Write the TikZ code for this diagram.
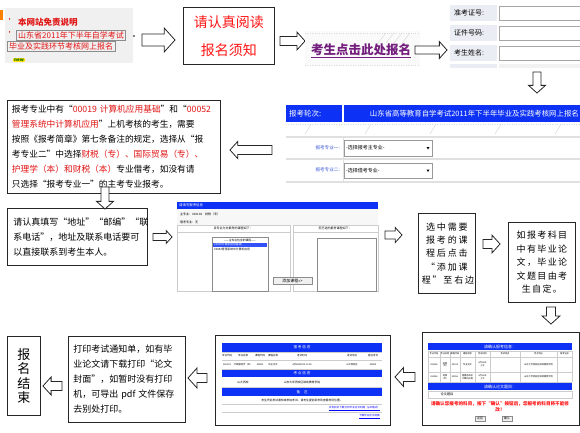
\documentclass[tikz,border=0pt]{standalone}
\usepackage{fontspec}
\setmainfont{Noto Sans CJK SC}
\usetikzlibrary{calc}
\definecolor{scrblue}{RGB}{14,50,245}
\definecolor{bred}{RGB}{255,20,20}
\definecolor{tred}{RGB}{225,20,20}
\definecolor{purp}{RGB}{115,30,125}
\definecolor{lgray}{RGB}{240,240,240}
\definecolor{cellgray}{RGB}{234,237,243}
\definecolor{lblue}{RGB}{60,90,220}
\newcommand{\myfs}[2]{\fontsize{#1}{#2}\selectfont}
\newcommand{\harrow}[6]{\begin{scope}[shift={(#1,#2)},rotate=#3]\draw[barrow] (0,{-#5/2}) -- ({#4-0.45*#6},{-#5/2}) -- ({#4-0.45*#6},{-#6/2}) -- (#4,0) -- ({#4-0.45*#6},{#6/2}) -- ({#4-0.45*#6},{#5/2}) -- (0,{#5/2}) -- cycle;\end{scope}}
\begin{document}
\begin{tikzpicture}[x=1pt,y=-1pt,
  box/.style={draw=black!85, line width=0.8pt, anchor=north west, inner sep=0pt},
  barrow/.style={draw=black!85, fill=white, line width=0.8pt, line join=miter},
  tx/.style={inner sep=0pt},
  wt/.style={inner sep=0pt, text=white},
  tiny/.style={inner sep=0pt, font=\myfs{3}{3.6}},
  grid/.style={draw=black!20, line width=0.3pt},
]
\useasboundingbox (0,0) rectangle (580,432);
\fill[white] (0,0) rectangle (580,432);

% ---------- screenshot 1 ----------
\fill[lgray] (5,8) rectangle (133,63);
\fill[orange] (0,10) rectangle (3,20);
\node[tx, anchor=east, text=tred, font=\myfs{7}{7}\bfseries] (q1) at (16,21) {'};
\node[tx, anchor=west, font=\myfs{8.5}{9}\bfseries, text=tred] (disc) at (18,22) {本网站免责说明};
\node[tx, anchor=east, text=tred, font=\myfs{7}{7}\bfseries] (q2) at (16,34) {'};
\node[tx, anchor=west, font=\myfs{8}{9}, text=tred] (l1) at (18,35.5) {山东省2011年下半年自学考试};
\node[tx, anchor=west, font=\myfs{8}{9}, text=tred] (l2) at (9,46.5) {毕业及实践环节考核网上报名};
\draw[black!45, line width=0.4pt] ($(l1.north west)+(-1.5,-1)$) rectangle ($(l1.south east)+(1.5,1)$);
\draw[black!45, line width=0.4pt] ($(l2.north west)+(-1.5,-1)$) rectangle ($(l2.south east)+(1.5,1)$);
\fill (134,36) circle (0.8);
\node[tx, fill=yellow!85!orange, rounded corners=1pt, inner xsep=1.2pt, inner ysep=0.6pt, font=\myfs{4.5}{5}\bfseries, text=green!40!black] (new) at (19,60) {new};

\harrow{142}{40}{0}{33}{12}{24}

% ---------- read box ----------
\node[box, minimum width=91, minimum height=57, align=center, text=bred, font=\myfs{14}{28}] (read) at (183,7) {请认真阅读\\报名须知};

\harrow{280}{41}{0}{25}{9}{18}

% ---------- click screenshot ----------
\fill[black!2] (305,31) rectangle (420,66);
\draw[black!15, dotted] (305,33) -- (420,33);
\draw[black!15, dotted] (305,65) -- (420,65);
\foreach \xx in {378,386,394,402} \draw[black!12, line width=0.6pt] (\xx,43) -- (\xx+8,33);
\node[tx, anchor=west, text=purp, font=\myfs{12.5}{13}\bfseries] (click) at (311,50) {考生点击此处报名};
\draw[purp, line width=0.8pt] ($(click.south west)+(0,1.5)$) -- ($(click.south east)+(0,1.5)$);

\harrow{415}{50}{0}{32}{8}{17}

% ---------- form screenshot ----------
\foreach \r/\lab in {0/准考证号:,1/证件号码:,2/考生姓名:}{
  \fill[cellgray] (450,{5+20*\r}) rectangle (497,{21+20*\r});
  \draw[black!35, fill=white, line width=0.5pt] (499,{6+20*\r}) rectangle (582,{20+20*\r});
  \node[tx, anchor=west, font=\myfs{7}{8}] at (454,{13+20*\r}) {\lab};
}
\fill[cellgray] (450,64) rectangle (497,68);
\fill[black!5] (499,64) rectangle (580,68);

\harrow{537}{72}{-90}{21}{8}{17}

% ---------- note 1 ----------
\node[box, minimum width=213, minimum height=93, text width=204, align=left, font=\myfs{8.7}{15}] (note1) at (7,100)
{报考专业中有“\textcolor{tred}{00019 计算机应用基础}”和“\textcolor{tred}{00052}\\
\textcolor{tred}{管理系统中计算机应用}”上机考核的考生，需要\\
按照《报考简章》第七条备注的规定，选择从“报\\
考专业二”中选择\textcolor{tred}{财税（专）、国际贸易（专）、}\\
\textcolor{tred}{护理学（本）和财税（本）}专业借考，如没有请\\
只选择“报考专业一”的主考专业报考。};

\harrow{272}{150}{180}{42}{9}{17}

% ---------- major screenshot ----------
\fill[scrblue] (286,105) rectangle (342,122);
\fill[scrblue] (344,105) rectangle (580,122);
\node[wt, anchor=west, font=\myfs{7.5}{8}] (round) at (289,113.5) {报考轮次:};
\node[wt, anchor=east, font=\myfs{7.4}{8}] (title) at (579,113.5) {山东省高等教育自学考试2011年下半年毕业及实践考核网上报名};
\draw[black!15, dotted] (286,124) -- (580,124);
\foreach \xx in {305,365,430,495,555} \draw[black!15, line width=0.5pt] (\xx,134) -- (\xx+6,124);
\draw[black!12, line width=1.5pt] (286,137) -- (580,137);
\draw[black!12, line width=1.5pt] (286,159) -- (580,159);
\draw[black!12, line width=1.5pt] (286,182) -- (580,182);
\draw[black!12, line width=0.8pt] (343,137) -- (343,182);
\node[tx, anchor=east, text=lblue, font=\myfs{4.6}{5}] (m1) at (340,148) {报考专业一:};
\node[tx, anchor=east, text=lblue, font=\myfs{4.6}{5}] (m2) at (340,170) {报考专业二:};
\draw[black!40, fill=white, line width=0.4pt] (344,140) rectangle (432,156);
\node[tx, anchor=west, font=\myfs{5}{5.5}] (dd1) at (346,148) {-选择报考主专业-};
\fill (426.5,147) -- (429.5,147) -- (428,149.5) -- cycle;
\draw[black!40, fill=white, line width=0.4pt] (344,163) rectangle (432,178);
\node[tx, anchor=west, font=\myfs{5}{5.5}] (dd2) at (346,170.5) {-选择借考专业-};
\fill (426.5,169.5) -- (429.5,169.5) -- (428,172) -- cycle;

\harrow{105}{187}{-90}{22}{8}{17}

% ---------- note 2 ----------
\node[box, minimum width=140, minimum height=57, text width=128, align=left, font=\myfs{9}{15}] (note2) at (7,208)
{请认真填写“地址”“邮编”“联\\系电话”，地址及联系电话要可\\以直接联系到考生本人。};

\harrow{153}{237}{0}{19}{7}{13}

% ---------- course screenshot ----------
\fill[black!3] (177,209) rectangle (378,225);
\fill[scrblue] (177,202) rectangle (378,209);
\node[wt, anchor=west, font=\myfs{3.4}{4}] (cs1) at (179,205.5) {请填写报考信息};
\node[tiny, anchor=west] (cs2) at (180,214) {主专业：020106\quad 财税（专）};
\node[tiny, anchor=west] (cs3) at (180,222) {借考专业：无};
\draw[grid] (177,225) rectangle (290,232);
\draw[grid] (293,225) rectangle (378,232);
\node[tiny] (cs4) at (233,228.5) {该专业允许报考的课程如下：};
\node[tiny] (cs5) at (335,228.5) {您已选的报考课程如下：};
\draw[grid] (177,232) rectangle (290,291);
\draw[grid] (293,232) rectangle (378,291);
\draw[black!45, fill=white, line width=0.4pt] (212,237) rectangle (268,291);
\node[tiny, font=\myfs{2.8}{3.2}] (cs6) at (240,240) {——主专业包含的课程——};
\fill[scrblue!85] (213,242.5) rectangle (267,246.5);
\node[wt, anchor=west, font=\myfs{2.8}{3.2}] (cs7) at (214,244.5) {00019计算机应用基础};
\node[tiny, anchor=west, font=\myfs{2.8}{3.2}] (cs8) at (214,249) {00052管理系统中计算机应用};
\draw[black!45, fill=black!6, line width=0.4pt] (273,277) rectangle (312,284);
\node[tiny, font=\myfs{4}{4.5}] (cs9) at (292.5,280.5) {添加课程>>>};
\draw[black!45, fill=white, line width=0.4pt] (317,238) rectangle (376,291);

\harrow{385}{235}{0}{17}{8}{15}

% ---------- note 3 ----------
\node[box, minimum width=57, minimum height=80, text width=50, align=center, font=\myfs{9}{13.4}\addfontfeatures{LetterSpace=20}] (note3) at (418,213)
{选中需要\\报考的课\\程后点击\\“添加课\\程”至右边};

\harrow{483}{244}{0}{17}{9}{18}

% ---------- note 4 ----------
\node[box, minimum width=67, minimum height=80, text width=62, align=center, font=\myfs{9}{13.5}\addfontfeatures{LetterSpace=15}] (note4) at (508,222)
{如报考科目\\中有毕业论\\文，毕业论\\文题目由考\\生自定。};

\harrow{551}{307}{-90}{17}{9}{18}

% ---------- confirm screenshot ----------
\draw[black!85, fill=white, line width=0.7pt] (422,332) rectangle (579.5,425);
\fill[scrblue] (428,343) rectangle (572,350);
\node[wt, font=\myfs{4}{4.5}] (cf1) at (500,346.5) {请确认报考信息：};
\foreach \xx in {428,440,450,460,475,490,520,557,572} \draw[grid] (\xx,351) -- (\xx,382);
\foreach \yy in {351,357,372,382} \draw[grid] (428,\yy) -- (572,\yy);
\foreach \cx/\ct in {434/专业代码,445/专业名称,455/课程代码,467.5/课程名称,482.5/考试时间,505/考试地点,538.5/考点地址,564.5/准考证号}
  \node[tiny, font=\myfs{2.2}{2.6}] at (\cx,354) {\ct};
\node[tiny, font=\myfs{2.2}{2.6}] at (434,364.5) {020106};
\node[tiny, font=\myfs{2.2}{2.6}, align=center] at (445,364.5) {财税\\（专）};
\node[tiny, font=\myfs{2.2}{2.6}] at (455,364.5) {00019};
\node[tiny, font=\myfs{2.2}{2.6}] at (467.5,364.5) {专业论文};
\node[tiny, font=\myfs{2.2}{2.6}, align=center] at (482.5,364.5) {4月23日\\上午};
\node[tiny, font=\myfs{2.2}{2.6}] at (538.5,364.5) {山东大学西校区继续教育学院};
\node[tiny, font=\myfs{2.2}{2.6}] at (434,377) {020106};
\node[tiny, font=\myfs{2.2}{2.6}, align=center] at (445,377) {财税\\（专）};
\node[tiny, font=\myfs{2.2}{2.6}] at (455,377) {00052};
\node[tiny, font=\myfs{2.2}{2.6}, align=center] at (467.5,377) {管理系统中\\计算机应用};
\node[tiny, font=\myfs{2.2}{2.6}, align=center] at (482.5,377) {4月23日\\上午};
\node[tiny, font=\myfs{2.2}{2.6}] at (538.5,377) {山东大学西校区继续教育学院};
\fill[scrblue] (428,383) rectangle (572,390);
\node[wt, font=\myfs{4}{4.5}] (cf2) at (500,386.5) {请确认论文题目：};
\draw[grid] (428,391) rectangle (572,398);
\node[tiny, font=\myfs{3.2}{3.6}] (cf3) at (447,394.5) {论文题目};
\node[tx, align=center, text=bred, font=\myfs{4.6}{6.5}\bfseries] (cf4) at (500,406.5) {请确认您报考的科目，按下“确认”按钮后，您报考的科目将不能修\\改！};
\draw[black!45, fill=black!6, line width=0.3pt] (475,416) rectangle (485,421);
\node[tiny, font=\myfs{2.8}{3}] (cf5) at (480,418.5) {返回};
\draw[black!45, fill=black!6, line width=0.3pt] (502,416) rectangle (512,421);
\node[tiny, font=\myfs{2.8}{3}] (cf6) at (507,418.5) {确认};

\harrow{415}{377}{180}{20}{9}{19}

% ---------- print screenshot ----------
\draw[black!85, fill=white, line width=0.7pt] (215,335) rectangle (390,425);
\fill[scrblue] (222,343) rectangle (382,352);
\node[wt, font=\myfs{3.6}{4}] (pr1) at (302,347.5) {报\ 考\ 信\ 息};
\foreach \yy in {352,360,369} \draw[grid] (222,\yy) -- (382,\yy);
\foreach \cx/\ct in {227/专业代码,243/专业名称,260/课程代码,273/课程名称,302/考试时间,352/考试地点,373/座位考号}
  \node[tiny, font=\myfs{2.5}{3}] at (\cx,356) {\ct};
\foreach \cx/\ct in {227/020202,243/行政管理学（本）,260/00000,273/毕业论文,302/4月23日9:00-11:00,352/山大西校区,373/00000}
  \node[tiny, font=\myfs{2.3}{3}] at (\cx,364.5) {\ct};
\fill[scrblue] (222,370) rectangle (382,377);
\node[wt, font=\myfs{3.6}{4}] (pr2) at (302,373.5) {考\ 点\ 信\ 息};
\node[tiny, font=\myfs{2.8}{3}] (pr3) at (243,382) {山大西校};
\node[tiny, font=\myfs{2.8}{3}] (pr4) at (302,382) {山东大学西校区继续教育学院};
\draw[grid] (222,387) -- (382,387);
\fill[scrblue] (222,388) rectangle (382,396);
\node[wt, font=\myfs{3.6}{4}] (pr5) at (302,392) {备\quad 注};
\node[tiny, font=\myfs{2.8}{3}] (pr6) at (302,400.5) {考生凭此考试通知单参加考试，请考生提前到考场查看考场位置。};
\draw[grid] (222,404.5) -- (382,404.5);
\node[tiny, anchor=east, text=blue, font=\myfs{2.6}{3}] (pr7) at (380,408.5) {\underline{点击此处下载打印毕业论文封面（pdf格式）}};
\draw[grid] (222,412.5) -- (382,412.5);
\node[tiny, anchor=east, text=blue, font=\myfs{2.6}{3}] (pr8) at (380,416.5) {\underline{下载毕业论文封面}};

\harrow{207}{378}{180}{19}{9}{20}

% ---------- note 5 ----------
\node[box, minimum width=117, minimum height=86, text width=107, align=left, font=\myfs{9}{15}] (note5) at (68,336)
{打印考试通知单，如有毕\\业论文请下载打印“论文\\封面”，如暂时没有打印\\机，可导出 pdf 文件保存\\去别处打印。};

\harrow{62}{386}{180}{19}{9}{18}

% ---------- end ----------
\node[box, minimum width=33, minimum height=79, align=center, font=\myfs{13}{14.5}] (fin) at (7,336) {报\\名\\结\\束};
\end{tikzpicture}
\end{document}
